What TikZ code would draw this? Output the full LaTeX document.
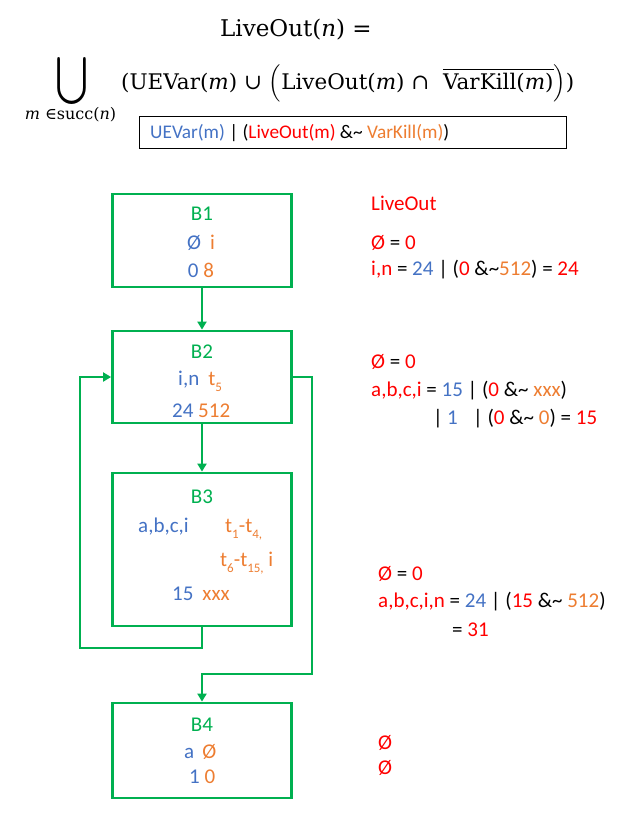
\documentclass[tikz,border=0pt]{standalone}
\usepackage{amsmath}
\usepackage{fontspec}
\usetikzlibrary{arrows.meta,calc}
\newfontfamily\carl{Carlito}
\newfontfamily\ser{DejaVu Serif}
\definecolor{cgreen}{HTML}{00B050}
\definecolor{cblue}{HTML}{4472C4}
\definecolor{corange}{HTML}{ED7D31}
\definecolor{cred}{HTML}{FF0000}
\newcommand\blu[1]{\textcolor{cblue}{#1}}
\newcommand\ora[1]{\textcolor{corange}{#1}}
\newcommand\rd[1]{\textcolor{cred}{#1}}
\newcommand\tld{\textasciitilde}
\newcommand\sbs[1]{\raisebox{-0.3em}{\fontsize{13}{13}\selectfont #1}}
\begin{document}
\begin{tikzpicture}[x=1pt,y=-1pt,
  every node/.style={inner sep=0pt},
  blk/.style={draw=cgreen, line width=2.8pt, minimum width=179pt, inner sep=0pt},
  arr/.style={draw=cgreen, line width=2.8pt, -{Triangle[length=8pt,width=9pt]}},
  tx/.style={font=\carl\fontsize{21}{25}\selectfont, anchor=base west},
  ctx/.style={font=\carl\fontsize{21}{25}\selectfont, anchor=base},
  eq/.style={font=\ser\fontsize{21.5}{26}\selectfont}]
\useasboundingbox (0,0) rectangle (629,815);
% header formula
\node[font=\ser\fontsize{23}{27}\selectfont, anchor=base west] (h1) at (220,36) {LiveOut(\textit{n}) =};
\node (cup) at (72.5,80.5) {\resizebox*{33pt}{47pt}{$\bigcup$}};
\node[font=\ser\fontsize{16}{18}\selectfont, anchor=base] (idx) at (70.5,119) {\textit{m} ∈succ(\textit{n})};
\node[eq, anchor=base west] (h2) at (121,89) {(UEVar(\textit{m}) ∪ $\Bigl($LiveOut(\textit{m}) ∩\ \ $\overline{\text{VarKill(\textit{m})}}\Bigr)$)};
\node[draw=black, line width=0.8pt, minimum width=427pt, minimum height=32pt, anchor=north west] (fb) at (139,116) {};
\node[font=\carl\fontsize{19.3}{23}\selectfont, anchor=base west] (fbt) at (150,138)
  {\blu{UEVar(m)} | (\rd{LiveOut(m)} \&\tld\ \ora{VarKill(m)})};
% blocks
\node[blk, minimum height=93pt] (B1) at (202,240.5) {};
\node[blk, minimum height=92pt] (B2) at (202,377) {};
\node[blk, minimum height=153pt] (B3) at (202,549.5) {};
\node[blk, minimum height=95pt] (B4) at (202,750.5) {};
% block texts
\node[ctx, text=cgreen] (b1l) at (202,220) {B1};
\node[ctx] (b1a) at (201,249) {\blu{Ø}\hspace{9pt}\ora{i}};
\node[ctx] (b1b) at (201,277) {\blu{0} \ora{8}};
\node[ctx, text=cgreen] (b2l) at (202,358) {B2};
\node[tx] (b2a) at (178,385) {\blu{i,n}\hspace{9pt}\ora{t\sbs{5}}};
\node[tx] (b2b) at (172,417) {\blu{24} \ora{512}};
\node[ctx, text=cgreen] (b3l) at (202,503) {B3};
\node[tx] (b3a) at (138,532) {\blu{a,b,c,i}};
\node[tx] (b3b) at (225,532) {\ora{t\sbs{1}-t\sbs{4,}}};
\node[tx] (b3c) at (220,566) {\ora{t\sbs{6}-t\sbs{15,} i}};
\node[tx] (b3d) at (172,600) {\blu{15}\hspace{9pt}\ora{xxx}};
\node[ctx, text=cgreen] (b4l) at (202,731) {B4};
\node[tx] (b4a) at (184,758) {\blu{a}\hspace{8pt}\ora{Ø}};
\node[tx] (b4b) at (189,783) {\blu{1} \ora{0}};
% connectors
\coordinate (lb) at (80,648);
\coordinate (rb) at (312,674);
\draw[arr] (B1.south) -- (B2.north);
\draw[arr] (B2.south) -- (B3.north);
\draw[arr] (B3.south) |- (lb) |- (B2.west);
\draw[arr] (B2.east) -| (rb) -| (B4.north);
% right annotations
\node[tx, text=cred] (r0) at (371,210) {LiveOut};
\node[tx] (r1) at (371,249) {\rd{Ø} = \rd{0}};
\node[tx] (r2) at (371,275) {\rd{i,n} = \blu{24} | (\rd{0} \&\tld\ora{512}) = \rd{24}};
\node[tx] (r3) at (371,368) {\rd{Ø} = \rd{0}};
\node[tx] (r4) at (371,396) {\rd{a,b,c,i} = \blu{15} | (\rd{0} \&\tld\ \ora{xxx})};
\node[tx] (r5a) at (433,424) {|};
\node[tx] (r5b) at (447,424) {\blu{1}};
\node[tx] (r5c) at (473,424) {| (\rd{0} \&\tld\ \ora{0}) = \rd{15}};
\node[tx] (r6) at (378,580) {\rd{Ø} = \rd{0}};
\node[tx] (r7) at (378,607) {\rd{a,b,c,i,n} = \blu{24} | (\rd{15} \&\tld\ \ora{512})};
\node[tx] (r8) at (452,636) {= \rd{31}};
\node[tx] (r9) at (378,749) {\rd{Ø}};
\node[tx] (r10) at (378,774) {\rd{Ø}};
\end{tikzpicture}
\end{document}
